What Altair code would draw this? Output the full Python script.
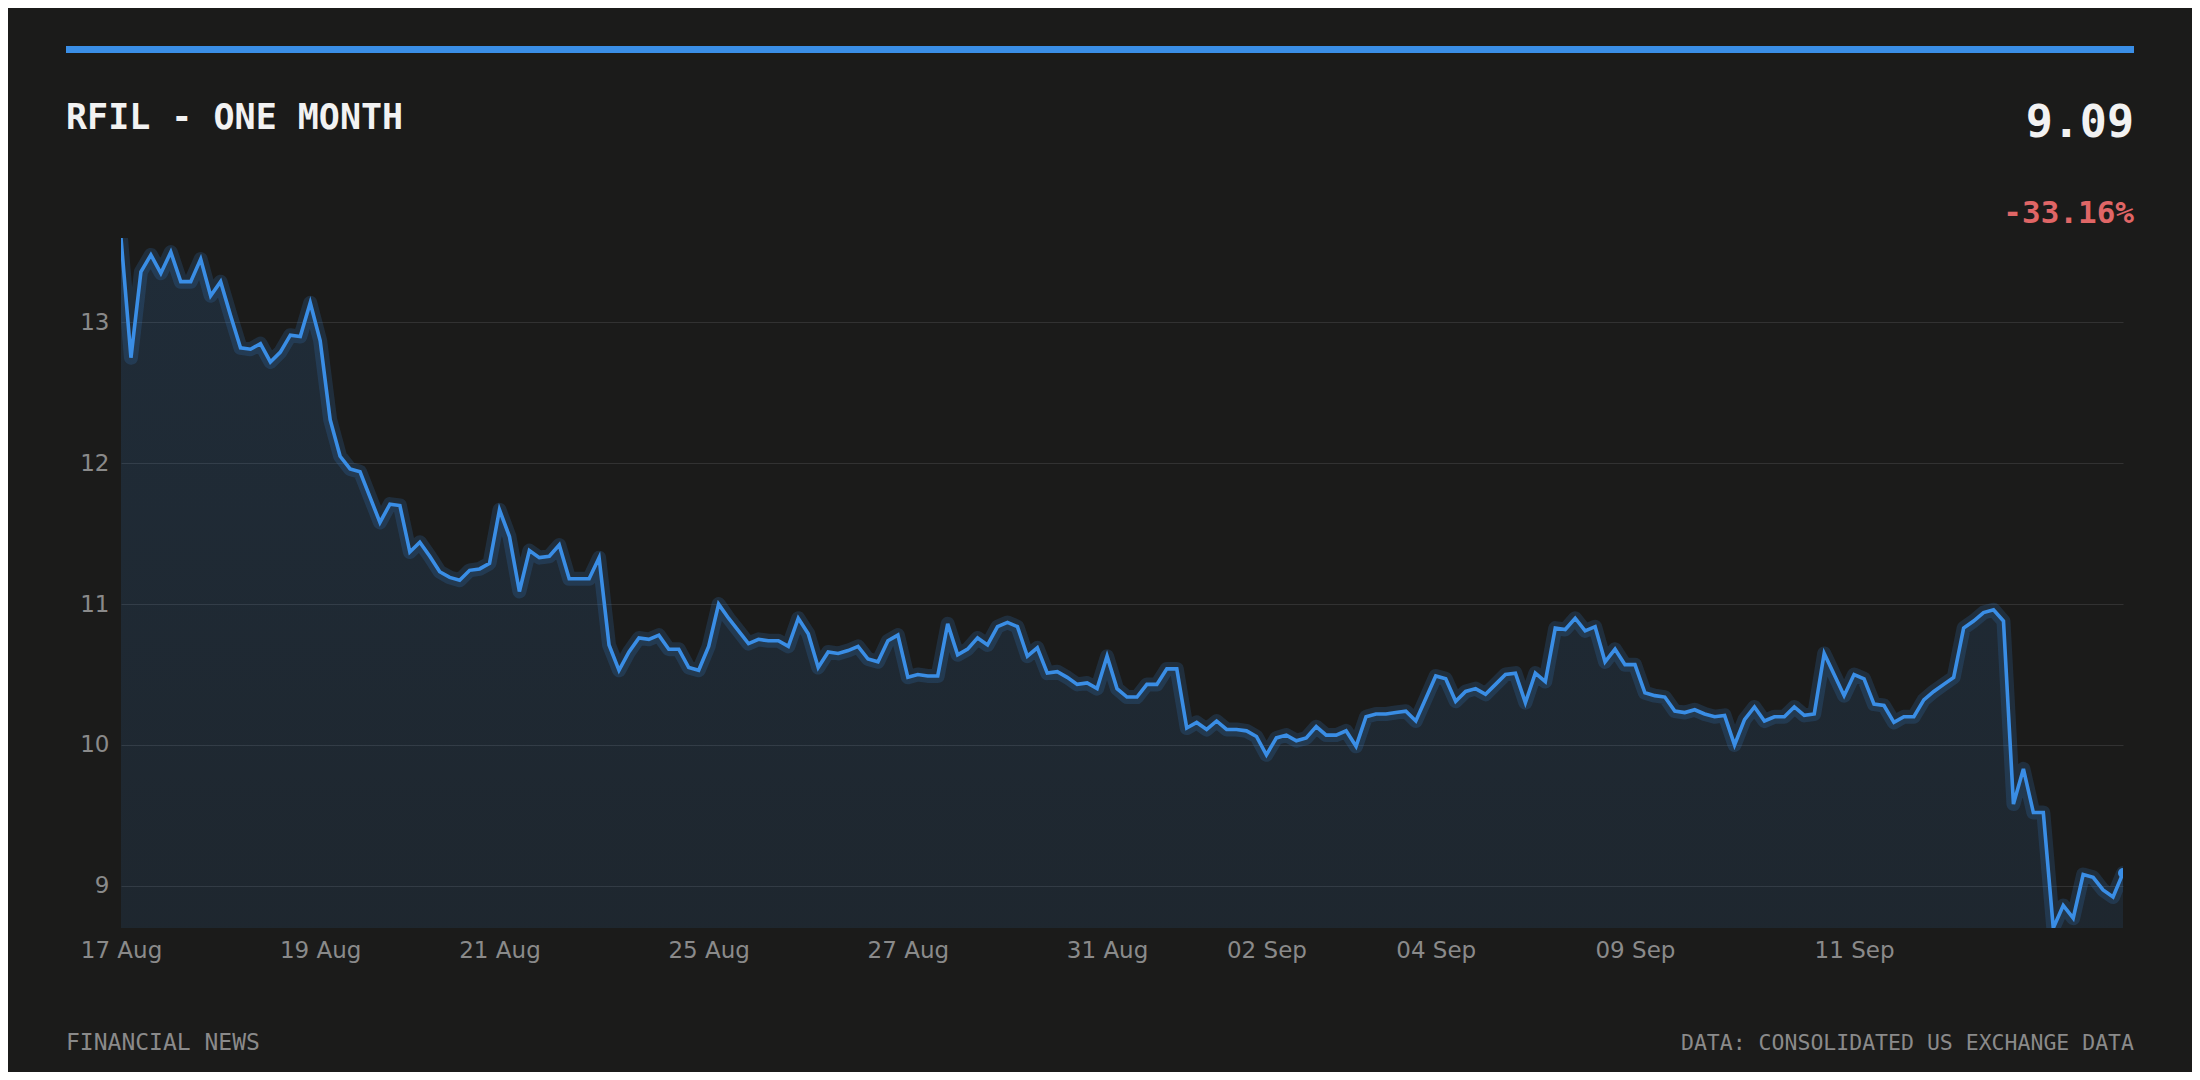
import json

import altair as alt
import pandas as pd

# intraday closes, one per sampling step (weekends/nights removed)
prices = [
    13.60, 12.75, 13.36, 13.48, 13.35, 13.50, 13.29, 13.29, 13.45, 13.19,
    13.29, 13.05, 12.82, 12.81, 12.85, 12.72, 12.79, 12.91, 12.90, 13.14,
    12.87, 12.31, 12.05, 11.96, 11.94, 11.76, 11.58, 11.71, 11.70, 11.37,
    11.44, 11.34, 11.23, 11.19, 11.17, 11.24, 11.25, 11.29, 11.67, 11.48,
    11.09, 11.38, 11.33, 11.34, 11.42, 11.18, 11.18, 11.18, 11.33, 10.71,
    10.53, 10.66, 10.76, 10.75, 10.78, 10.68, 10.68, 10.55, 10.53, 10.70,
    11.00, 10.90, 10.81, 10.72, 10.75, 10.74, 10.74, 10.70, 10.90, 10.79,
    10.55, 10.66, 10.65, 10.67, 10.70, 10.61, 10.59, 10.74, 10.78, 10.48,
    10.50, 10.49, 10.49, 10.86, 10.64, 10.68, 10.76, 10.71, 10.84, 10.87,
    10.84, 10.63, 10.69, 10.51, 10.52, 10.48, 10.43, 10.44, 10.40, 10.63,
    10.40, 10.34, 10.34, 10.43, 10.43, 10.54, 10.54, 10.12, 10.16, 10.11,
    10.17, 10.11, 10.11, 10.10, 10.06, 9.93, 10.05, 10.07, 10.03, 10.05,
    10.13, 10.07, 10.07, 10.10, 9.99, 10.20, 10.22, 10.22, 10.23, 10.24,
    10.17, 10.33, 10.49, 10.47, 10.31, 10.38, 10.40, 10.36, 10.43, 10.50,
    10.51, 10.30, 10.51, 10.45, 10.83, 10.82, 10.90, 10.81, 10.84, 10.59,
    10.68, 10.57, 10.57, 10.37, 10.35, 10.34, 10.24, 10.23, 10.25, 10.22,
    10.20, 10.21, 10.00, 10.18, 10.27, 10.17, 10.20, 10.20, 10.27, 10.21,
    10.22, 10.65, 10.50, 10.35, 10.50, 10.47, 10.29, 10.28, 10.16, 10.20,
    10.20, 10.32, 10.38, 10.43, 10.48, 10.83, 10.88, 10.94, 10.96, 10.88,
    9.58, 9.83, 9.52, 9.52, 8.70, 8.86, 8.77, 9.08, 9.06, 8.97,
    8.92, 9.09,
]
tick_idx = [0, 20, 38, 59, 79, 99, 115, 132, 152, 174]
tick_labels = ["17 Aug", "19 Aug", "21 Aug", "25 Aug", "27 Aug",
               "31 Aug", "02 Sep", "04 Sep", "09 Sep", "11 Sep"]
y_ticks = [9, 10, 11, 12, 13]

ticker = "RFIL"
period = "ONE MONTH"
last_price = "9.09"
pct_change = "-33.16%"
source_note = "FINANCIAL NEWS"
data_note = "DATA: CONSOLIDATED US EXCHANGE DATA"

W, H = 2002, 690
BG = "#1b1b1a"
BLUE = "#3a8ee6"
RED = "#e06666"
MONO = "DejaVu Sans Mono"

df = pd.DataFrame({"i": range(len(prices)), "price": prices})

x = alt.X(
    "i:Q",
    title=None,
    scale=alt.Scale(domain=[0, len(prices) - 1], nice=False),
    axis=alt.Axis(
        values=tick_idx,
        labelExpr=f"{json.dumps(tick_labels)}[indexof({json.dumps(tick_idx)}, datum.value)]",
        grid=False,
        labelFlush=False,
        labelPadding=11,
    ),
)
y = alt.Y(
    "price:Q",
    title=None,
    scale=alt.Scale(domain=[min(prices), max(prices)], nice=False, zero=False),
    axis=alt.Axis(values=y_ticks, format="d", grid=True, labelPadding=12),
)

area = alt.Chart(df).mark_area(
    clip=True,
    color=alt.Gradient(
        gradient="linear",
        stops=[
            alt.GradientStop(color="rgba(58,142,230,0.15)", offset=0),
            alt.GradientStop(color="rgba(58,142,230,0.02)", offset=1),
        ],
        x1=1, x2=1, y1=0, y2=1,
    ),
).encode(x=x, y=y)

# soft halo under the price line
glow = alt.Chart(df).mark_line(
    clip=True, color=BLUE, strokeWidth=14, opacity=0.17,
    strokeJoin="round", strokeCap="round",
).encode(x="i:Q", y="price:Q")

line = alt.Chart(df).mark_line(
    clip=True, color=BLUE, strokeWidth=3.6
).encode(x="i:Q", y="price:Q")

dot = alt.Chart(df.tail(1)).mark_circle(
    clip=True, size=100, color=BLUE, opacity=1
).encode(x="i:Q", y="price:Q")


def label(text, px, py, size, color, align="left", weight="normal"):
    return alt.Chart(pd.DataFrame({"t": [text]})).mark_text(
        font=MONO, fontSize=size, color=color, align=align,
        baseline="alphabetic", fontWeight=weight,
    ).encode(text="t:N", x=alt.value(px), y=alt.value(py))


top_bar = alt.Chart(pd.DataFrame({"t": [0]})).mark_rule(
    color=BLUE, strokeWidth=7, strokeCap="butt"
).encode(x=alt.value(-55), x2=alt.value(W + 11), y=alt.value(-188.5))

title = label(f"{ticker} - {period}", -55, -109, 35, "#f2f2f2", weight="bold")
price_lbl = label(last_price, W + 11, -101.5, 45, "#f2f2f2", "right", "bold")
change_lbl = label(pct_change, W + 11, -15, 31, RED, "right", "bold")
foot_left = label(source_note, -55, 812, 23, "#8a8a8a")
foot_right = label(data_note, W + 11, 812, 21.5, "#8a8a8a", "right")

chart = (
    alt.layer(area, glow, line, dot, top_bar, title, price_lbl, change_lbl,
              foot_left, foot_right)
    .properties(
        width=W, height=H,
        autosize=alt.AutoSizeParams(type="none"),
        padding={"left": 113, "top": 230, "right": 69, "bottom": 144},
    )
    .configure(background=BG)
    .configure_view(stroke=None)
    .configure_axis(
        domain=False, ticks=False,
        labelFont="DejaVu Sans", labelFontSize=23, labelColor="#8a8a8a",
        gridColor="#323232", gridWidth=1.2,
    )
)

chart.save("out.html", embed_options={"renderer": "svg", "actions": False})
